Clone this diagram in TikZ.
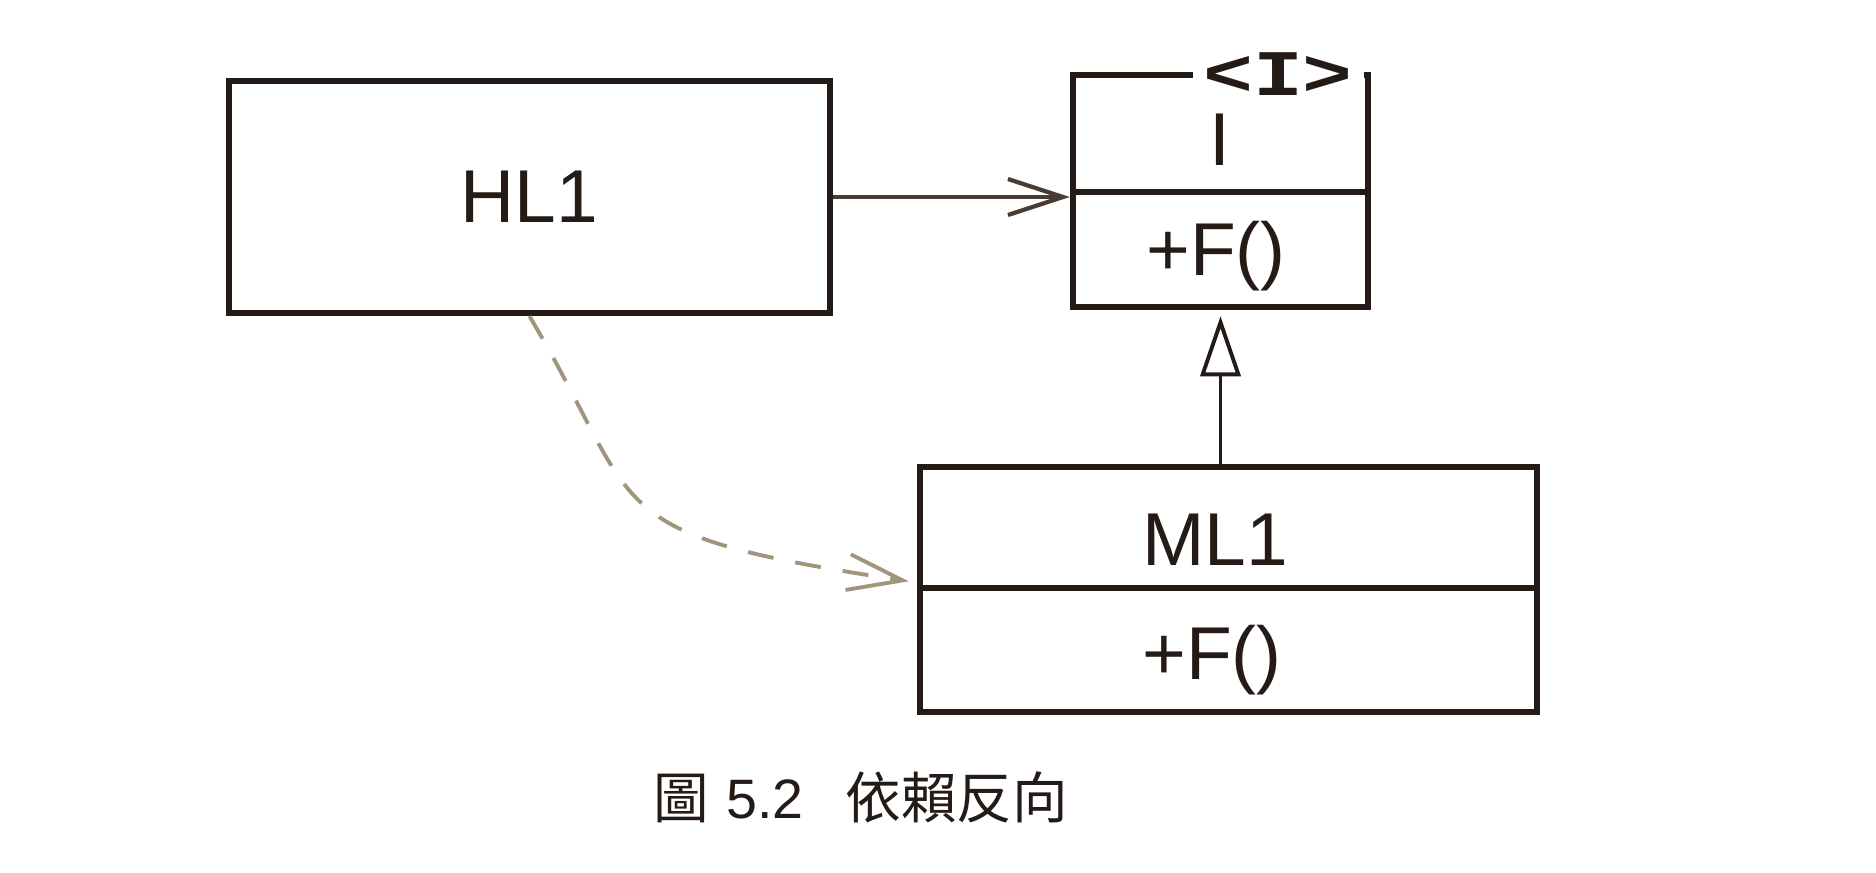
\documentclass[tikz,border=0pt]{standalone}
\usepackage{fontspec}
\usepackage{graphicx}
\setmainfont{Liberation Sans}
\newfontfamily\cjk{Noto Sans CJK TC}
\newfontfamily\monof{Liberation Mono}
\usetikzlibrary{arrows.meta}
\definecolor{ink}{HTML}{241A16}
\definecolor{arrowink}{HTML}{4A3C33}
\definecolor{dashink}{HTML}{A0967C}
\begin{document}
\begin{tikzpicture}[x=0.01cm, y=-0.01cm,
  box/.style={draw=ink, line width=1.8pt, inner sep=0pt},
  lbl/.style={font=\fontsize{21.3}{25}\selectfont, text=ink, inner sep=0pt},
  divider/.style={draw=ink, line width=1.8pt},
  assoc/.style={line width=1.2pt, draw=arrowink, -{Straight Barb[length=5.5mm,width=3.6mm]}},
  realize/.style={line width=1.1pt, draw=ink, -{Triangle[open, length=6mm, width=4mm]}},
  depend/.style={line width=1.1pt, draw=dashink, dash pattern=on 7.4pt off 6.3pt, -{Straight Barb[length=5.5mm,width=3.6mm]}}
]
\fill[white] (0,0) rectangle (1876,872);
\useasboundingbox (0,0) rectangle (1876,872);

% HL1
\node[box, lbl, minimum width=6.01cm, minimum height=2.32cm] (HL1) at (529.5,197) {HL1};

% Interface I
\node[box, minimum width=2.95cm, minimum height=2.32cm] (Ibox) at (1220.5,191) {};
\draw[divider] (1073,192) -- (1368,192);
\node[fill=white, inner xsep=3pt, inner ysep=0pt, text=ink] (stereo) at (1278,74)
  {\monof\bfseries\fontsize{18.5}{20}\selectfont\scalebox{1.28}[1]{<I>}};
\node[lbl] (Iname) at (1220,140) {I};
\node[lbl] (Iop) at (1216,256) {+F()};

% ML1
\node[box, minimum width=6.17cm, minimum height=2.45cm] (ML1) at (1228.5,589.5) {};
\draw[divider] (920,588) -- (1537,588);
\node[lbl] (Mname) at (1215,540) {ML1};
\node[lbl] (Mop) at (1212,660) {+F()};

% connectors
\draw[assoc] (HL1.east) -- (HL1.east -| Ibox.west);
\draw[realize, shorten >=0.06cm] (ML1.north -| Ibox.south) -- (Ibox.south);
\draw[depend, shorten >=0.08cm] (HL1.south) .. controls +(117,197) and +(-325,-49) .. ([yshift=0.07cm]ML1.west);

% caption
\node[anchor=west, inner sep=0pt, text=ink, font=\fontsize{15.8}{18}\selectfont] (caption) at (653,797)
  {{\cjk 圖}\hspace{0.17cm}5.2\hspace{0.42cm}{\cjk 依賴反向}};
\end{tikzpicture}
\end{document}
